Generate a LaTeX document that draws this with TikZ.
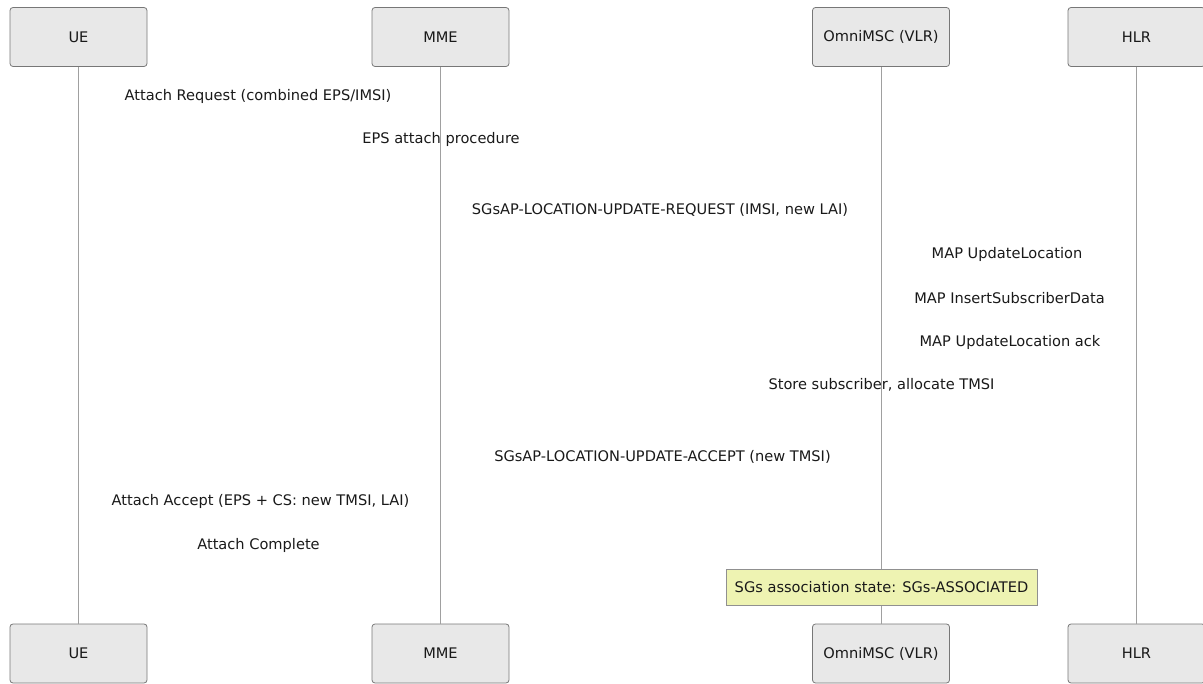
\documentclass[tikz,border=0pt]{standalone}
\usepackage{fontspec}
\setmainfont{DejaVu Sans}
\definecolor{boxfill}{HTML}{E8E8E8}
\definecolor{boxline}{HTML}{777777}
\definecolor{lifeline}{HTML}{A0A0A0}
\definecolor{notefill}{HTML}{EEF3B2}
\definecolor{noteline}{HTML}{909090}
\begin{document}
\begin{tikzpicture}[x=1pt,y=-1pt,
  every node/.style={font=\fontsize{14.6}{17}\selectfont, text=black!90},
  actor/.style={draw=boxline, fill=boxfill, rounded corners=3pt, minimum width=137pt, minimum height=59pt, inner sep=0pt, line width=0.8pt},
  life/.style={draw=lifeline, line width=0.8pt},
  msg/.style={inner sep=0pt},
  note/.style={draw=noteline, fill=notefill, minimum width=311pt, minimum height=36pt, inner sep=0pt, line width=0.8pt}]
\useasboundingbox (0,0) rectangle (1203,684);
% top actors
\node[actor] (ueT) at (78.5,37) {UE};
\node[actor] (mmeT) at (440.5,37) {MME};
\node[actor] (mscT) at (881,37) {OmniMSC (VLR)};
\node[actor] (hlrT) at (1136.5,37) {HLR};
% bottom actors
\node[actor] (ueB) at (78.5,653.5) {UE};
\node[actor] (mmeB) at (440.5,653.5) {MME};
\node[actor] (mscB) at (881,653.5) {OmniMSC (VLR)};
\node[actor] (hlrB) at (1136.5,653.5) {HLR};
% lifelines
\draw[life] (ueT.south) -- (ueB.north);
\draw[life] (mmeT.south) -- (mmeB.north);
\draw[life] (mscT.south) -- (mscB.north);
\draw[life] (hlrT.south) -- (hlrB.north);
% messages
\node[msg] (m1) at (258,96) {Attach Request (combined EPS/IMSI)};
\node[msg] (m2) at (441,139) {EPS attach procedure};
\node[msg] (m3) at (660,210) {SGsAP-LOCATION-UPDATE-REQUEST (IMSI, new LAI)};
\node[msg] (m4) at (1007,254) {MAP UpdateLocation};
\node[msg] (m5) at (1009.5,298) {MAP InsertSubscriberData};
\node[msg] (m6) at (1010,342) {MAP UpdateLocation ack};
\node[msg] (m7) at (881.5,385) {Store subscriber, allocate TMSI};
\node[msg] (m8) at (662.5,457) {SGsAP-LOCATION-UPDATE-ACCEPT (new TMSI)};
\node[msg] (m9) at (260.5,501) {Attach Accept (EPS + CS: new TMSI, LAI)};
\node[msg] (m10) at (258.5,545) {Attach Complete};
% note
\node[note] (n1) at (881.5,587) {SGs association state: SGs-ASSOCIATED};
\end{tikzpicture}
\end{document}
